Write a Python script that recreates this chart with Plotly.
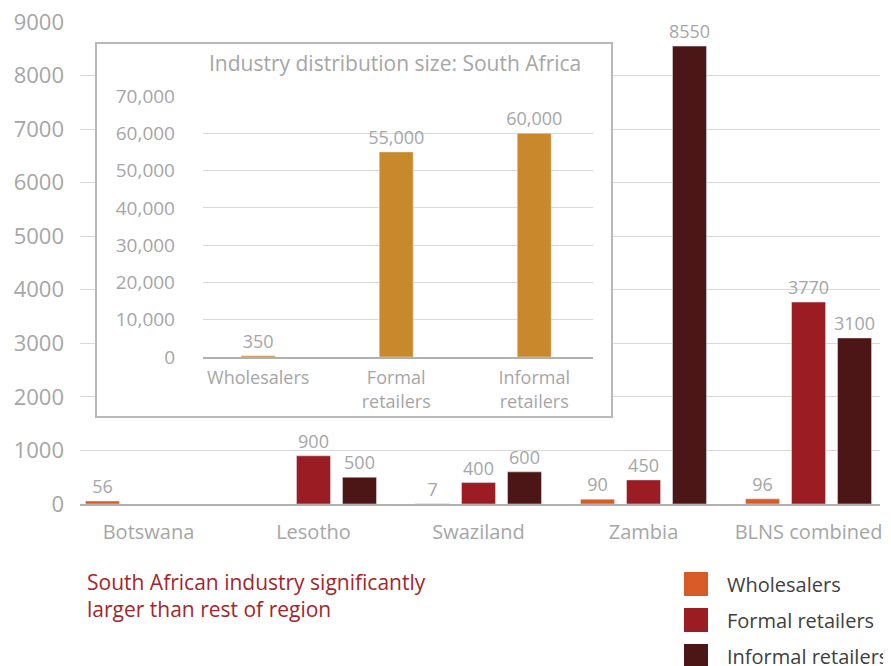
import plotly.graph_objects as go

# ---- data ----
countries = ["Botswana", "Lesotho", "Swaziland", "Zambia", "BLNS combined"]
wholesalers = [56, None, 7, 90, 96]
formal_retailers = [None, 900, 400, 450, 3770]
informal_retailers = [None, 500, 600, 8550, 3100]

sa_categories = ["Wholesalers", "Formal<br>retailers", "Informal<br>retailers"]
sa_values = [350, 55000, 60000]

series_names = ["Wholesalers", "Formal retailers", "Informal retailers"]
colors = ["#d95b27", "#9b1c22", "#4d1616"]
sa_color = "#c8882b"

FONT = "Open Sans"
GREY = "#a6a6a6"

fig = go.Figure()

for name, vals, col in zip(series_names, [wholesalers, formal_retailers, informal_retailers], colors):
    fig.add_trace(go.Bar(
        x=countries, y=vals, name=name, marker_color=col,
        text=[("" if v is None else str(v)) for v in vals],
        textposition="outside", cliponaxis=False, constraintext="none",
        textfont=dict(family=FONT, size=18, color=GREY),
        showlegend=False, xaxis="x", yaxis="y",
    ))

# white panel subplot for the inset box
fig.add_trace(go.Scatter(x=[0], y=[0], mode="none", showlegend=False,
                         hoverinfo="skip", xaxis="x2", yaxis="y2"))

# inset chart
fig.add_trace(go.Bar(
    x=sa_categories, y=sa_values, marker_color=sa_color, width=0.246,
    text=[f"{v:,}" for v in sa_values], textposition="outside", cliponaxis=False,
    constraintext="none",
    textfont=dict(family=FONT, size=18, color=GREY),
    showlegend=False, xaxis="x3", yaxis="y3",
))

# page is offset by the browser's default body margin
OFF = 8
W, H = 891, 666
PL, PR, PT, PB = 80, 880, 22, 504  # plot area in screen pixels
ML = PL - OFF
MT = PT - OFF
MR = W - (PR - OFF)
MB = H - (PB - OFF)
PW = PR - PL
PH = PB - PT


def px(x):
    return (x - PL) / PW


def py(y):
    return (PB - y) / PH


box = dict(x0=97, x1=611, y0=44, y1=416)
inset = dict(x0=203, x1=593, y0=96, y1=357)

fig.update_layout(
    width=W, height=H, autosize=False,
    margin=dict(l=ML, r=MR, t=MT, b=MB, pad=0, autoexpand=False),
    paper_bgcolor="white", plot_bgcolor="white",
    barmode="group", bargap=0.164, bargroupgap=0.26,
    font=dict(family=FONT, color=GREY),
    xaxis=dict(domain=[0, 1], range=[-0.415, 4.433], showgrid=False, automargin=False,
               showline=True, linecolor="#b0b0b0", linewidth=1.5,
               ticks="", tickfont=dict(family=FONT, size=20, color=GREY),
               ticklabelstandoff=9, ticklabeloverflow="allow"),
    yaxis=dict(domain=[0, 1], range=[0, 9000], dtick=1000, showgrid=True, automargin=False,
               gridcolor="#d9d9d9", gridwidth=1.2, zeroline=False, showline=False,
               ticks="", tickfont=dict(family=FONT, size=22, color=GREY),
               ticklabelstandoff=15, ticklabeloverflow="allow"),
    xaxis2=dict(domain=[px(box["x0"]), px(box["x1"])], range=[0, 1], anchor="y2",
                automargin=False,
                showgrid=False, zeroline=False, showticklabels=False, ticks="",
                showline=True, mirror=True, linecolor="#b8b8b8", linewidth=1.5),
    yaxis2=dict(domain=[py(box["y1"]), py(box["y0"])], range=[0, 1], anchor="x2",
                automargin=False,
                showgrid=False, zeroline=False, showticklabels=False, ticks="",
                showline=True, mirror=True, linecolor="#b8b8b8", linewidth=1.5),
    xaxis3=dict(domain=[px(inset["x0"]), px(inset["x1"])], range=[-0.4, 2.426],
                anchor="y3", showgrid=False, showline=True, linecolor="#b0b0b0",
                automargin=False,
                linewidth=1.5, ticks="", tickfont=dict(family=FONT, size=18, color=GREY),
                ticklabelstandoff=4),
    yaxis3=dict(domain=[py(inset["y1"]), py(inset["y0"])], range=[0, 70000], dtick=10000,
                anchor="x3", tickformat=",", showgrid=True, gridcolor="#d9d9d9",
                automargin=False,
                gridwidth=1.2, zeroline=False, showline=False, ticks="",
                tickfont=dict(family=FONT, size=19, color=GREY), ticklabelstandoff=27),
)

annotations = [
    dict(text="Industry distribution size: South Africa", x=px(395), y=py(63),
         xref="paper", yref="paper", showarrow=False, xanchor="center", yanchor="middle",
         font=dict(family=FONT, size=21, color=GREY)),
    dict(text="South African industry significantly<br>larger than rest of region",
         x=px(85), y=py(595.5), xref="paper", yref="paper", showarrow=False,
         xanchor="left", yanchor="middle", align="left",
         font=dict(family=FONT, size=21, color="#a3262a")),
]
shapes = []
legend_rows = [584, 620, 656]
for name, col, yc in zip(series_names, colors, legend_rows):
    shapes.append(dict(type="rect", xref="paper", yref="paper",
                       x0=px(684), x1=px(708), y0=py(yc + 12), y1=py(yc - 12),
                       fillcolor=col, line=dict(width=0), layer="above"))
    annotations.append(dict(text=name, x=px(725), y=py(yc), xref="paper", yref="paper",
                            showarrow=False, xanchor="left", yanchor="middle",
                            font=dict(family=FONT, size=20, color="#404040")))

fig.update_layout(annotations=annotations, shapes=shapes)

fig.write_html("out.html")
